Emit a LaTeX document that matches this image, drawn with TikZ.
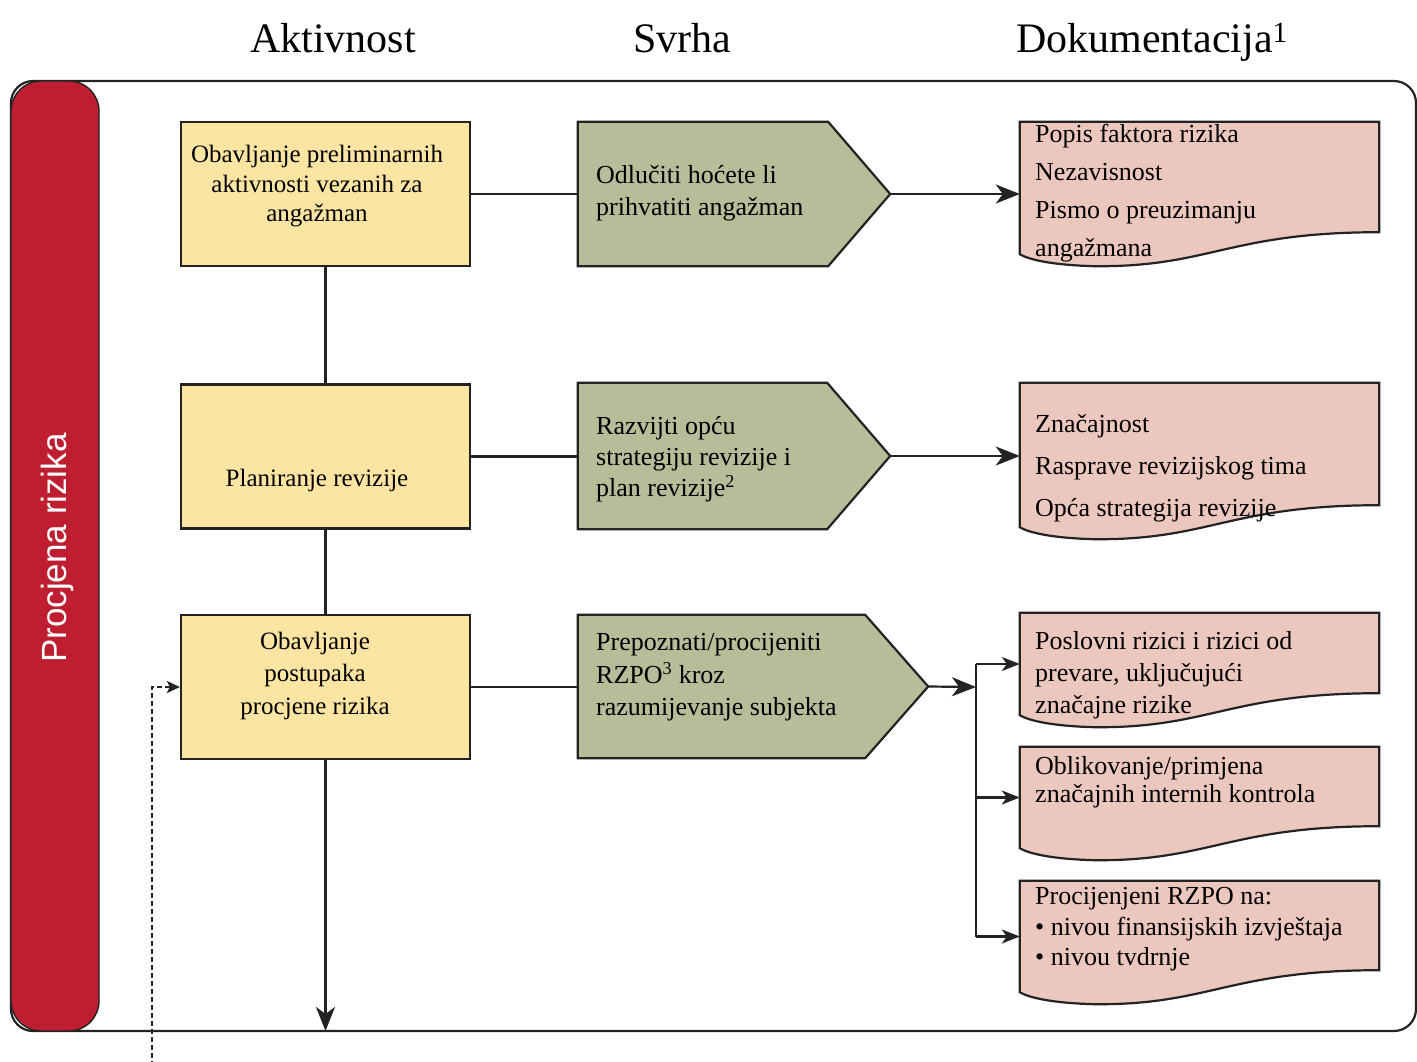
\documentclass[tikz,border=0pt]{standalone}
\usepackage{fontspec}
\setmainfont{Liberation Serif}
\newfontfamily\bandfont{Liberation Sans}
\usetikzlibrary{arrows.meta,calc}

\definecolor{bandred}{RGB}{190,30,48}
\definecolor{actyellow}{RGB}{252,229,163}
\definecolor{aimgreen}{RGB}{182,189,153}
\definecolor{docpink}{RGB}{236,199,190}
\definecolor{edge}{RGB}{35,35,35}

% pentagon arrow shape around a rectangular region node; #2 = depth of the point
\newcommand\aimshape[2]{%
  \draw[outline,fill=aimgreen] (#1.north west) -- (#1.north east)
     -- ($(#1.east)+(#2,0)$) -- (#1.south east) -- (#1.south west) -- cycle;
  \coordinate (#1tip) at ($(#1.east)+(#2,0)$);}

% document shape with a wavy lower edge
\newcommand\docshape[1]{%
  \draw[outline,fill=docpink] (#1.south west) -- (#1.north west) -- (#1.north east)
     -- ($(#1.south east)+(0,-22)$)
     .. controls ($(#1.south east)+(-150,-22)$) and ($(#1.south west)+(190,13)$)
     .. ($(#1.south west)+(75,12)$)
     .. controls ($(#1.south west)+(35,11)$) and ($(#1.south west)+(10,6)$)
     .. (#1.south west) -- cycle;}

\begin{document}
\begin{tikzpicture}[x=1pt,y=-1pt,
  outline/.style={draw=edge,line width=2.2pt},
  actbox/.style={outline,fill=actyellow,minimum width=289pt,minimum height=144pt,inner sep=0pt},
  region/.style={draw=none,inner sep=0pt},
  head/.style={font=\fontsize{42}{48}\selectfont,inner sep=0pt,anchor=base},
  acttext/.style={inner sep=0pt,align=center},
  bodytext/.style={inner sep=0pt,align=left,anchor=west},
  link/.style={draw=edge,line width=2.2pt},
  bigtip/.style={-{Stealth[length=24pt,width=19pt,inset=7pt]}},
  smalltip/.style={-{Stealth[length=18pt,width=14pt,inset=5pt]}},
]
\useasboundingbox (0,0) rectangle (1417,1061);
\fill[white] (0,0) rectangle (1417,1061);

% column headings
\node[head] (h1) at (333,52) {Aktivnost};
\node[head] (h2) at (682,52) {Svrha};
\node[head] (h3) at (1152,52) {Dokumentacija\textsuperscript{1}};

% frame and phase band
\draw[outline,rounded corners=22pt] (11,81) rectangle (1416,1031);
\node[draw=edge,line width=1.4pt,fill=bandred,rounded corners=30pt,
      minimum width=88pt,minimum height=950pt,inner sep=0pt] (band) at (55,556) {};
\node[rotate=90,text=white,inner sep=0pt,font=\bandfont\fontsize{35}{40}\selectfont]
      (bandlabel) at (57,548) {Procjena rizika};

% activities
\node[actbox] (y1) at (325.5,194) {};
\node[actbox] (y2) at (325.5,456.5) {};
\node[actbox] (y3) at (325.5,687) {};

% purposes
\node[region,minimum width=250pt,minimum height=144pt] (g1) at (703,194) {};
\node[region,minimum width=249pt,minimum height=146pt] (g2) at (702.5,456) {};
\node[region,minimum width=287pt,minimum height=143pt] (g3) at (721.5,686.5) {};
\aimshape{g1}{62}
\aimshape{g2}{63}
\aimshape{g3}{63}

% documentation
\node[region,minimum width=359pt,minimum height=132pt] (d1) at (1199.5,188) {};
\node[region,minimum width=359pt,minimum height=144pt] (d2) at (1199.5,455) {};
\node[region,minimum width=359pt,minimum height=102pt] (d3a) at (1199.5,664) {};
\node[region,minimum width=359pt,minimum height=101pt] (d3b) at (1199.5,797.5) {};
\node[region,minimum width=359pt,minimum height=111pt] (d3c) at (1199.5,936.5) {};
\docshape{d1}
\docshape{d2}
\docshape{d3a}
\docshape{d3b}
\docshape{d3c}

% texts
\node[acttext,font=\fontsize{25}{29.5}\selectfont] (y1t) at (317,186.5)
  {Obavljanje preliminarnih\\aktivnosti vezanih za\\angažman};
\node[acttext,font=\fontsize{25}{31}\selectfont] (y2t) at (317,480) {Planiranje revizije};
\node[acttext,font=\fontsize{25}{32.5}\selectfont] (y3t) at (315,675.5)
  {Obavljanje\\postupaka\\procjene rizika};

\node[bodytext,font=\fontsize{26}{32}\selectfont] (g1t) at (596,193)
  {Odlučiti hoćete li\\prihvatiti angažman};
\node[bodytext,font=\fontsize{26}{31}\selectfont] (g2t) at (596,459)
  {Razvijti opću\\strategiju revizije i\\plan revizije\textsuperscript{2}};
\node[bodytext,font=\fontsize{26}{32.5}\selectfont] (g3t) at (596,677.5)
  {Prepoznati/procijeniti\\RZPO\textsuperscript{3} kroz\\razumijevanje subjekta};

\node[bodytext,font=\fontsize{26}{38}\selectfont] (d1t) at (1035,193)
  {Popis faktora rizika\\Nezavisnost\\Pismo o preuzimanju\\angažmana};
\node[bodytext,font=\fontsize{26}{42}\selectfont] (d2t) at (1035,468)
  {Značajnost\\Rasprave revizijskog tima\\Opća strategija revizije};
\node[bodytext,font=\fontsize{26}{32}\selectfont] (d3at) at (1035,675)
  {Poslovni rizici i rizici od\\prevare, uključujući\\značajne rizike};
\node[bodytext,font=\fontsize{26}{28}\selectfont] (d3bt) at (1035,782)
  {Oblikovanje/primjena\\značajnih internih kontrola};
\node[bodytext,font=\fontsize{26}{30.5}\selectfont] (d3ct) at (1035,929.5)
  {Procijenjeni RZPO na:\\\textbullet{} nivou finansijskih izvještaja\\\textbullet{} nivou tvdrnje};

% connectors
\draw[link] (y1) -- (y2);
\draw[link] (y2) -- (y3);
\coordinate (exit) at (325.5,1031);
\draw[link,bigtip] (y3) -- (exit);

\draw[link] (y1.east) -- (y1.east -| g1.west);
\draw[link] (y2.east) -- (y2.east -| g2.west);
\draw[link] (y3.east) -- (y3.east -| g3.west);

\draw[link,bigtip] (g1tip) -- (g1tip -| d1.west);
\draw[link,bigtip] (g2tip) -- (g2tip -| d2.west);

\coordinate (fork) at (976,687);
\draw[link,bigtip] (g3tip) -- (fork);
\draw[link] (fork |- d3a.west) -- (fork |- d3c.west);
\draw[link,smalltip] (fork |- d3a.west) -- (d3a.west);
\draw[link,smalltip] (fork |- d3b.west) -- (d3b.west);
\draw[link,smalltip] (fork |- d3c.west) -- (d3c.west);

% return path into the risk assessment procedures
\coordinate (loopin) at (152,1066);
\draw[draw=edge,line width=2.6pt,dash pattern=on 5pt off 3pt,
      -{Stealth[length=13pt,width=12pt,inset=3pt]}] (loopin) |- (y3.west);
\end{tikzpicture}
\end{document}
